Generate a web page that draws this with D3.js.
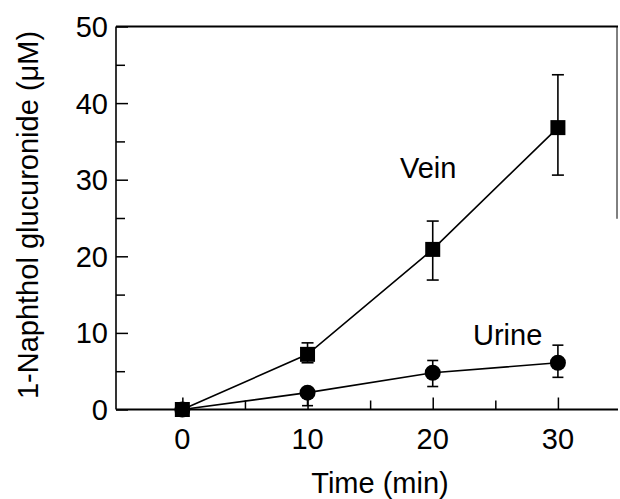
<!DOCTYPE html>
<html>
<head>
<meta charset="utf-8">
<script src="https://cdn.jsdelivr.net/npm/d3@7"></script>
<style>
  html, body { margin: 0; padding: 0; background: #fff; }
  svg { display: block; font-family: "Liberation Sans", Arial, Helvetica, sans-serif; }
</style>
</head>
<body>
<svg id="chart" width="620" height="499"></svg>
<script>
// Values
const times = [0, 10, 20, 30];
const veinMean = [0, 7.2, 20.9, 36.8];
const veinLow = [0, 6.1, 16.9, 30.6];
const veinHigh = [0, 8.7, 24.6, 43.7];
const urineMean = [0, 2.2, 4.8, 6.1];
const urineLow = [0, 0.5, 3.0, 4.2];
const urineHigh = [0, 2.2, 6.4, 8.4];
const xMajorTicks = [0, 10, 20, 30];
const xMinorTicks = [5, 15, 25];
const yMajorTicks = [0, 10, 20, 30, 40, 50];
const yMinorTicks = [5, 15, 25, 35, 45];

const svg = d3.select('#chart');
const x = d3.scaleLinear().domain([-5.3, 34.8]).range([116, 618]);
const y = d3.scaleLinear().domain([0, 50]).range([409.5, 26.5]);

const vein = times.map((t, i) => ({ t, v: veinMean[i], lo: veinLow[i], hi: veinHigh[i] }));
const urine = times.map((t, i) => ({ t, v: urineMean[i], lo: urineLow[i], hi: urineHigh[i] }));

// frame: left, bottom, top, partial right edge
const frame = svg.append('g').attr('stroke', '#000').attr('fill', 'none');
frame.append('line').attr('x1', x(-5.3)).attr('x2', x(-5.3)).attr('y1', y(50)).attr('y2', y(0)).attr('stroke-width', 1.6);
frame.append('line').attr('x1', x(-5.3)).attr('x2', x(34.8)).attr('y1', y(0)).attr('y2', y(0)).attr('stroke-width', 2);
frame.append('line').attr('x1', x(-5.3)).attr('x2', x(34.8)).attr('y1', y(50)).attr('y2', y(50)).attr('stroke-width', 2);
frame.append('line').attr('x1', x(34.8) - 1).attr('x2', x(34.8) - 1).attr('y1', y(50)).attr('y2', y(24.9)).attr('stroke-width', 1);

// y ticks (inward)
svg.append('g').attr('transform', `translate(${x(-5.3)},0)`)
  .call(d3.axisRight(y).tickValues(yMajorTicks).tickSize(12).tickFormat(''))
  .call(g => g.select('.domain').remove())
  .call(g => g.selectAll('line').attr('stroke-width', 1.5));
svg.append('g').attr('transform', `translate(${x(-5.3)},0)`)
  .call(d3.axisRight(y).tickValues(yMinorTicks).tickSize(9).tickFormat(''))
  .call(g => g.select('.domain').remove())
  .call(g => g.selectAll('line').attr('stroke-width', 1.5));
svg.append('g').selectAll('text').data(yMajorTicks).join('text')
  .attr('x', 108).attr('y', d => y(d)).attr('dy', '0.36em')
  .attr('text-anchor', 'end').attr('font-size', 29).text(d => d);

// x ticks (inward, pointing up)
svg.append('g').attr('transform', `translate(0,${y(0)})`)
  .call(d3.axisTop(x).tickValues(xMajorTicks).tickSize(12).tickFormat(''))
  .call(g => g.select('.domain').remove())
  .call(g => g.selectAll('line').attr('stroke-width', 1.5));
svg.append('g').attr('transform', `translate(0,${y(0)})`)
  .call(d3.axisTop(x).tickValues(xMinorTicks).tickSize(9).tickFormat(''))
  .call(g => g.select('.domain').remove())
  .call(g => g.selectAll('line').attr('stroke-width', 1.5));
svg.append('g').selectAll('text').data(xMajorTicks).join('text')
  .attr('x', d => x(d)).attr('y', 449)
  .attr('text-anchor', 'middle').attr('font-size', 29).text(d => d);

// axis titles
svg.append('text').attr('x', 380).attr('y', 493).attr('text-anchor', 'middle')
  .attr('font-size', 29).text('Time (min)');
svg.append('text').attr('transform', 'translate(38,215) rotate(-90)').attr('text-anchor', 'middle')
  .attr('font-size', 29).text('1-Naphthol glucuronide (\u03BCM)');

const line = d3.line().x(d => x(d.t)).y(d => y(d.v));

function errorBars(data, cap) {
  const g = svg.append('g').attr('stroke', '#000').attr('stroke-width', 1.6);
  const pts = data.filter(d => d.hi > d.lo);
  g.selectAll('.v').data(pts).join('line')
    .attr('x1', d => x(d.t)).attr('x2', d => x(d.t)).attr('y1', d => y(d.lo)).attr('y2', d => y(d.hi));
  g.selectAll('.top').data(pts.filter(d => d.hi > d.v)).join('line')
    .attr('x1', d => x(d.t) - cap / 2).attr('x2', d => x(d.t) + cap / 2).attr('y1', d => y(d.hi)).attr('y2', d => y(d.hi));
  g.selectAll('.bot').data(pts.filter(d => d.lo < d.v)).join('line')
    .attr('x1', d => x(d.t) - cap / 2).attr('x2', d => x(d.t) + cap / 2).attr('y1', d => y(d.lo)).attr('y2', d => y(d.lo));
}

// urine series
svg.append('path').datum(urine).attr('d', line).attr('fill', 'none').attr('stroke', '#000').attr('stroke-width', 1.6);
errorBars(urine, 11);
svg.append('g').selectAll('circle').data(urine).join('circle')
  .attr('cx', d => x(d.t)).attr('cy', d => y(d.v)).attr('r', 8).attr('fill', '#000');

// vein series
svg.append('path').datum(vein).attr('d', line).attr('fill', 'none').attr('stroke', '#000').attr('stroke-width', 1.6);
errorBars(vein, 12);
svg.append('g').selectAll('rect').data(vein).join('rect')
  .attr('x', d => x(d.t) - 7.5).attr('y', d => y(d.v) - 7.5).attr('width', 15).attr('height', 15).attr('fill', '#000');

// series labels
svg.append('text').attr('x', 400).attr('y', 178).attr('font-size', 29).text('Vein');
svg.append('text').attr('x', 473).attr('y', 345).attr('font-size', 29).text('Urine');
</script>
</body>
</html>
